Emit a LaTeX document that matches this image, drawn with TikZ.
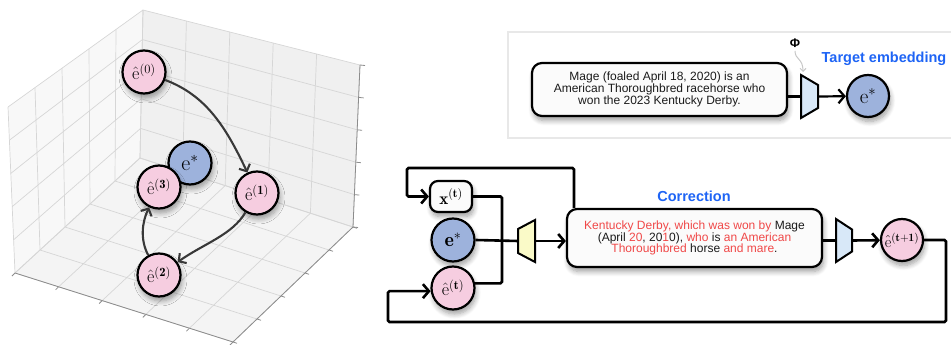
\RequirePackage{fix-cm}
\documentclass[tikz,border=0pt]{standalone}
\usepackage{amsmath}
\usepackage{fontspec}
\newfontfamily\sansf{Liberation Sans}
\usetikzlibrary{arrows.meta,calc,shadows.blur}
\definecolor{pinkc}{HTML}{F6CDE0}
\definecolor{bluec}{HTML}{9DB2DC}
\definecolor{encblue}{HTML}{D8E8F8}
\definecolor{decyel}{HTML}{FAFAC8}
\definecolor{redt}{HTML}{F04848}
\definecolor{bluet}{HTML}{1E64F5}
\definecolor{txt}{HTML}{1A1A1A}
\definecolor{arrg}{HTML}{383838}
\definecolor{gridc}{HTML}{D6D6D6}
\definecolor{paneL}{HTML}{F8F8F8}
\definecolor{paneR}{HTML}{F0F0F0}
\definecolor{paneB}{HTML}{F4F4F4}
\definecolor{axisc}{HTML}{8C8C8C}
\definecolor{framec}{HTML}{E8E8E8}
\tikzset{
 shad/.style={blur shadow={shadow xshift=1.5pt, shadow yshift=-4.5pt, shadow blur radius=5pt, shadow blur steps=8, shadow opacity=38}},
 emb/.style={circle, draw=black, line width=2.2pt, minimum size=43pt, inner sep=0pt, shad},
 pk/.style={emb, fill=pinkc},
 bl/.style={emb, fill=bluec},
 arr3d/.style={draw=arrg, line width=2.1pt, -{Straight Barb[length=5.5pt,width=12pt]}},
 wire/.style={draw=black, line width=2.6pt, rounded corners=1.5pt},
 warr/.style={wire, -{Straight Barb[length=6pt,width=14pt]}},
 txtbox/.style={draw=black, line width=2.2pt, rounded corners=10pt, fill=white!97!gray, shad, font=\sansf\fontsize{12}{11.8}\selectfont, align=center, text=txt, inner sep=0pt},
 slot/.style={inner sep=0pt, outer sep=0pt},
 trap/.style={draw=black, line width=2pt, line join=miter},
 gridl/.style={draw=gridc, line width=0.7pt},
 axl/.style={draw=axisc, line width=0.8pt},
 ttl/.style={font=\sansf\bfseries\fontsize{14.5}{14.5}\selectfont, text=bluet},
}
\begin{document}
\begin{tikzpicture}[x=1pt,y=-1pt]
\useasboundingbox (0,0) rectangle (951,345);
% ---------- 3D axes ----------
\coordinate (L0) at (15,273);
\coordinate (L1) at (8,107);
\coordinate (B0) at (140,158);
\coordinate (B1) at (143,10);
\coordinate (R0) at (353,227);
\coordinate (R1) at (360,65);
\coordinate (F) at (233,342);
\fill[paneL] (L0) -- (B0) -- (B1) -- (L1) -- cycle;
\fill[paneR] (B0) -- (R0) -- (R1) -- (B1) -- cycle;
\fill[paneB] (B0) -- (R0) -- (F) -- (L0) -- cycle;
\foreach \t in {0,0.2,0.4,0.6,0.8,1}{
  \draw[gridl] ($(L0)!\t!(B0)$) -- ($(L1)!\t!(B1)$);
  \draw[gridl] ($(L0)!\t!(L1)$) -- ($(B0)!\t!(B1)$);
  \draw[gridl] ($(B0)!\t!(R0)$) -- ($(B1)!\t!(R1)$);
  \draw[gridl] ($(B0)!\t!(B1)$) -- ($(R0)!\t!(R1)$);
  \draw[gridl] ($(B0)!\t!(L0)$) -- ($(R0)!\t!(F)$);
  \draw[gridl] ($(B0)!\t!(R0)$) -- ($(L0)!\t!(F)$);
  \draw[axl] ($(R0)!\t!(R1)$) -- ++(5,0.5);
  \draw[axl] ($(L0)!\t!(F)$) -- ++(-3,3);
  \draw[axl] ($(F)!\t!(R0)$) -- ++(4,1.3);
}
\draw[axl] (L0) -- (F) -- (R0) -- (R1);
% ---------- trajectory ----------
\begin{scope}[font=\fontsize{18}{18}\selectfont]
\node[pk] (n0) at (144,72) {$\hat{\mathrm{e}}^{(0)}$};
\node[bl, font=\fontsize{22}{22}\selectfont] (es1) at (190,163) {$\mathrm{e}^{*}$};
\node[pk] (n3) at (159,187) {$\hat{\mathrm{e}}^{(\mathbf{3})}$};
\node[pk] (n1) at (257,193) {$\hat{\mathrm{e}}^{(\mathbf{1})}$};
\node[pk] (n2) at (159,275) {$\hat{\mathrm{e}}^{(\mathbf{2})}$};
\end{scope}
\draw[arr3d] (n0) .. controls (205,95) and (225,125) .. (n1);
\draw[arr3d] (n1) .. controls (232,235) and (205,243) .. (n2);
\draw[arr3d] (n2) .. controls (140,240) and (142,222) .. (n3);
% ---------- target embedding panel ----------
\draw[draw=framec, line width=2pt] (508,32) rectangle (956,138);
\node[txtbox, minimum width=255pt, minimum height=53pt] (box1) at (659.5,89.5)
  {Mage (foaled April 18, 2020) is an\\American Thoroughbred racehorse who\\won the 2023 Kentucky Derby.};
\node[slot, minimum width=17pt, minimum height=43pt] (enc1) at (809.5,96.5) {};
\draw[trap, fill=encblue] (enc1.north west) -- (enc1.south west) -- ($(enc1.south east)+(0,-10)$) -- ($(enc1.north east)+(0,10)$) -- cycle;
\node[bl, minimum size=42pt, font=\fontsize{21}{21}\selectfont] (es2) at (868,96) {$\mathrm{e}^{*}$};
\draw[wire, line width=2.2pt] (box1.east |- enc1.west) -- (enc1.west);
\draw[warr, line width=2.2pt] (enc1.east) -- (es2);
\node[font=\sansf\bfseries\fontsize{12.5}{12.5}\selectfont] (phi) at (795,43) {Φ};
\coordinate (phiend) at (803,72);
\draw[draw=black!22, line width=1pt, -{Straight Barb[length=3pt,width=6pt]}] (phi.south) .. controls (795,60) and (803,58) .. (phiend);
\node[ttl] (tgt) at (884,59) {Target embedding};
% ---------- correction loop ----------
\node[draw=black, line width=2.2pt, rounded corners=8pt, fill=white!97!gray, shad, minimum width=42pt, minimum height=31pt, inner sep=0pt, font=\fontsize{17}{17}\selectfont] (xt) at (451,196.5) {$\mathbf{x}^{(\mathbf{t})}$};
\node[bl, font=\fontsize{20}{20}\selectfont] (es3) at (453,240) {$\mathbf{e}^{*}$};
\node[pk, font=\fontsize{18}{18}\selectfont] (et) at (453,288) {$\hat{\mathrm{e}}^{(\mathbf{t})}$};
\node[slot, minimum width=17pt, minimum height=42pt] (dec) at (526.5,241) {};
\draw[trap, fill=decyel] ($(dec.north west)+(0,9)$) -- ($(dec.south west)+(0,-9)$) -- (dec.south east) -- (dec.north east) -- cycle;
\node[txtbox, minimum width=255pt, minimum height=58pt] (corr) at (694.5,238)
  {{\color{redt}Kentucky Derby, which was won by} Mage\\
   (April {\color{redt}20}, 20{\color{redt}1}0), {\color{redt}who} is {\color{redt}an American}\\
   {\color{redt}Thoroughbred} horse {\color{redt}and mare}.};
\node[ttl] (corrlbl) at (694,196) {Correction};
\node[slot, minimum width=16pt, minimum height=43pt] (enc2) at (844,240.5) {};
\draw[trap, fill=encblue] (enc2.north west) -- (enc2.south west) -- ($(enc2.south east)+(0,-10.5)$) -- ($(enc2.north east)+(0,10.5)$) -- cycle;
\node[pk, minimum size=42pt, font=\fontsize{16}{16}\selectfont] (etp) at (902,240) {$\hat{\mathrm{e}}^{(\mathbf{t+1})}$};
\coordinate (bus) at (502,240);
\coordinate (c1) at (574,168);
\coordinate (lt) at (407,168);
\coordinate (rb) at (946,322);
\coordinate (lb) at (388,322);
\draw[wire] (xt.east) -| (bus);
\draw[wire] (et.12) -| (bus);
\draw[wire] (es3.east) -- (dec.west);
\draw[warr] (dec.east) -- (dec.east -| corr.west);
\draw[warr] (c1 |- corr.north) |- (lt) |- (xt.west);
\draw[wire] (corr.east |- enc2.west) -- (enc2.west);
\draw[warr] (enc2.east) -- (etp);
\draw[warr] (etp.east) -| (rb) -- (lb) |- (et.188);
\end{tikzpicture}
\end{document}
